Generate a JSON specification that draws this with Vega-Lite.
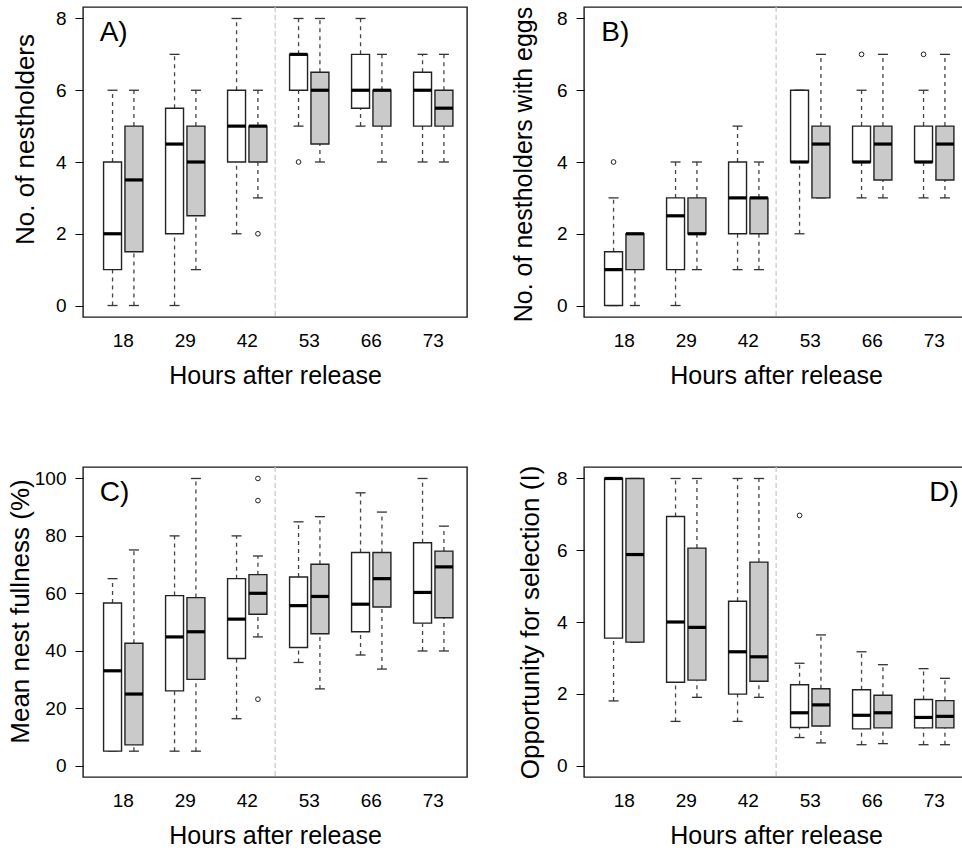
{
  "$schema": "https://vega.github.io/schema/vega-lite/v6.json",
  "background": "white",
  "padding": {"left": 6, "top": 5, "right": 0, "bottom": 0},
  "columns": 2,
  "bounds": "flush",
  "spacing": {"row": 150, "column": 117},
  "config": {
    "font": "Liberation Sans",
    "view": {"stroke": "#1a1a1a", "strokeWidth": 1.4},
    "tick": {"opacity": 1},
    "point": {"opacity": 1},
    "axis": {
      "labelFont": "Liberation Sans", "labelFontSize": 19, "labelColor": "black",
      "titleFont": "Liberation Sans", "titleFontSize": 25, "titleFontWeight": "normal", "titleColor": "black",
      "grid": false, "domain": false, "tickColor": "black"
    },
    "axisX": {"ticks": false, "labelAngle": 0, "labelPadding": 14, "titlePadding": 13},
    "axisY": {"tickSize": 8, "labelPadding": 9, "titleFontSize": 26}
  },
  "datasets": {
    "A": [
      {"hour": "18", "grp": "white", "lo": 0, "q1": 1, "med": 2, "q3": 4, "hi": 6},
      {"hour": "18", "grp": "grey", "lo": 0, "q1": 1.5, "med": 3.5, "q3": 5, "hi": 6},
      {"hour": "29", "grp": "white", "lo": 0, "q1": 2, "med": 4.5, "q3": 5.5, "hi": 7},
      {"hour": "29", "grp": "grey", "lo": 1, "q1": 2.5, "med": 4, "q3": 5, "hi": 6},
      {"hour": "42", "grp": "white", "lo": 2, "q1": 4, "med": 5, "q3": 6, "hi": 8},
      {"hour": "42", "grp": "grey", "lo": 3, "q1": 4, "med": 5, "q3": 5, "hi": 6},
      {"hour": "53", "grp": "white", "lo": 5, "q1": 6, "med": 7, "q3": 7, "hi": 8},
      {"hour": "53", "grp": "grey", "lo": 4, "q1": 4.5, "med": 6, "q3": 6.5, "hi": 8},
      {"hour": "66", "grp": "white", "lo": 5, "q1": 5.5, "med": 6, "q3": 7, "hi": 8},
      {"hour": "66", "grp": "grey", "lo": 4, "q1": 5, "med": 6, "q3": 6, "hi": 7},
      {"hour": "73", "grp": "white", "lo": 4, "q1": 5, "med": 6, "q3": 6.5, "hi": 7},
      {"hour": "73", "grp": "grey", "lo": 4, "q1": 5, "med": 5.5, "q3": 6, "hi": 7}
    ],
    "Aout": [
      {"hour": "42", "grp": "grey", "v": 2},
      {"hour": "53", "grp": "white", "v": 4}
    ],
    "B": [
      {"hour": "18", "grp": "white", "lo": 0, "q1": 0, "med": 1, "q3": 1.5, "hi": 3},
      {"hour": "18", "grp": "grey", "lo": 0, "q1": 1, "med": 2, "q3": 2, "hi": 2},
      {"hour": "29", "grp": "white", "lo": 0, "q1": 1, "med": 2.5, "q3": 3, "hi": 4},
      {"hour": "29", "grp": "grey", "lo": 1, "q1": 2, "med": 2, "q3": 3, "hi": 4},
      {"hour": "42", "grp": "white", "lo": 1, "q1": 2, "med": 3, "q3": 4, "hi": 5},
      {"hour": "42", "grp": "grey", "lo": 1, "q1": 2, "med": 3, "q3": 3, "hi": 4},
      {"hour": "53", "grp": "white", "lo": 2, "q1": 4, "med": 4, "q3": 6, "hi": 6},
      {"hour": "53", "grp": "grey", "lo": 3, "q1": 3, "med": 4.5, "q3": 5, "hi": 7},
      {"hour": "66", "grp": "white", "lo": 3, "q1": 4, "med": 4, "q3": 5, "hi": 6},
      {"hour": "66", "grp": "grey", "lo": 3, "q1": 3.5, "med": 4.5, "q3": 5, "hi": 7},
      {"hour": "73", "grp": "white", "lo": 3, "q1": 4, "med": 4, "q3": 5, "hi": 6},
      {"hour": "73", "grp": "grey", "lo": 3, "q1": 3.5, "med": 4.5, "q3": 5, "hi": 7}
    ],
    "Bout": [
      {"hour": "18", "grp": "white", "v": 4},
      {"hour": "66", "grp": "white", "v": 7},
      {"hour": "73", "grp": "white", "v": 7}
    ],
    "C": [
      {"hour": "18", "grp": "white", "lo": 5, "q1": 5, "med": 33, "q3": 56.6, "hi": 65.1},
      {"hour": "18", "grp": "grey", "lo": 5, "q1": 7.2, "med": 24.9, "q3": 42.6, "hi": 75.1},
      {"hour": "29", "grp": "white", "lo": 5, "q1": 26, "med": 44.8, "q3": 59.2, "hi": 80},
      {"hour": "29", "grp": "grey", "lo": 5, "q1": 30, "med": 46.6, "q3": 58.5, "hi": 100},
      {"hour": "42", "grp": "white", "lo": 16.3, "q1": 37.3, "med": 51, "q3": 65.1, "hi": 80},
      {"hour": "42", "grp": "grey", "lo": 44.8, "q1": 52.7, "med": 60, "q3": 66.5, "hi": 73},
      {"hour": "53", "grp": "white", "lo": 35.9, "q1": 41.1, "med": 55.7, "q3": 65.7, "hi": 84.9},
      {"hour": "53", "grp": "grey", "lo": 26.7, "q1": 45.9, "med": 58.9, "q3": 70.1, "hi": 86.7},
      {"hour": "66", "grp": "white", "lo": 38.5, "q1": 46.6, "med": 56.2, "q3": 74.2, "hi": 95},
      {"hour": "66", "grp": "grey", "lo": 33.6, "q1": 55.2, "med": 65.1, "q3": 74.2, "hi": 88.3},
      {"hour": "73", "grp": "white", "lo": 39.9, "q1": 49.6, "med": 60.3, "q3": 77.6, "hi": 100},
      {"hour": "73", "grp": "grey", "lo": 39.9, "q1": 51.5, "med": 69.2, "q3": 74.7, "hi": 83.4}
    ],
    "Cout": [
      {"hour": "42", "grp": "grey", "v": 100},
      {"hour": "42", "grp": "grey", "v": 92.3},
      {"hour": "42", "grp": "grey", "v": 23.1}
    ],
    "D": [
      {"hour": "18", "grp": "white", "lo": 1.8, "q1": 3.55, "med": 8, "q3": 8, "hi": 8},
      {"hour": "18", "grp": "grey", "lo": 3.44, "q1": 3.44, "med": 5.88, "q3": 8, "hi": 8},
      {"hour": "29", "grp": "white", "lo": 1.23, "q1": 2.32, "med": 4.0, "q3": 6.94, "hi": 8},
      {"hour": "29", "grp": "grey", "lo": 1.9, "q1": 2.38, "med": 3.85, "q3": 6.06, "hi": 8},
      {"hour": "42", "grp": "white", "lo": 1.23, "q1": 1.99, "med": 3.17, "q3": 4.58, "hi": 8},
      {"hour": "42", "grp": "grey", "lo": 1.9, "q1": 2.35, "med": 3.03, "q3": 5.67, "hi": 8},
      {"hour": "53", "grp": "white", "lo": 0.78, "q1": 1.06, "med": 1.47, "q3": 2.25, "hi": 2.85},
      {"hour": "53", "grp": "grey", "lo": 0.63, "q1": 1.1, "med": 1.69, "q3": 2.14, "hi": 3.64},
      {"hour": "66", "grp": "white", "lo": 0.58, "q1": 1.02, "med": 1.4, "q3": 2.11, "hi": 3.17},
      {"hour": "66", "grp": "grey", "lo": 0.61, "q1": 1.05, "med": 1.47, "q3": 1.96, "hi": 2.81},
      {"hour": "73", "grp": "white", "lo": 0.58, "q1": 1.05, "med": 1.34, "q3": 1.84, "hi": 2.7},
      {"hour": "73", "grp": "grey", "lo": 0.58, "q1": 1.05, "med": 1.37, "q3": 1.81, "hi": 2.43}
    ],
    "Dout": [
      {"hour": "53", "grp": "white", "v": 6.97}
    ]
  },
  "concat": [
    {
      "width": 384, "height": 310,
      "encoding": {
        "x": {"field": "hour", "type": "ordinal", "sort": ["18", "29", "42", "53", "66", "73"],
              "scale": {"domain": ["18", "29", "42", "53", "66", "73"], "paddingInner": 0, "paddingOuter": 0.0968, "align": 0.77},
              "axis": {"title": "Hours after release"}},
        "xOffset": {"field": "grp", "type": "nominal", "sort": ["white", "grey"],
                    "scale": {"domain": ["white", "grey"], "paddingInner": 0.16, "paddingOuter": 0.53}}
      },
      "layer": [
        {"mark": {"type": "rule", "color": "#c8c8c8", "strokeDash": [5, 3], "strokeWidth": 1.2},
         "data": {"values": [{}]},
         "encoding": {"x": {"datum": "42", "type": "ordinal", "bandPosition": 0.95}, "xOffset": null}},
        {"data": {"name": "A"}, "mark": {"type": "rule", "color": "#444", "strokeDash": [4, 4], "strokeWidth": 1.3},
         "encoding": {"y": {"field": "lo", "type": "quantitative", "scale": {"domain": [-0.32, 8.32], "nice": false, "zero": false},
                            "axis": {"values": [0, 2, 4, 6, 8], "title": "No. of nestholders", "titlePadding": 17, "titleY": 132}},
                      "y2": {"field": "q1"}}},
        {"data": {"name": "A"}, "mark": {"type": "rule", "color": "#444", "strokeDash": [4, 4], "strokeWidth": 1.3},
         "encoding": {"y": {"field": "q3", "type": "quantitative"}, "y2": {"field": "hi"}}},
        {"data": {"name": "A"}, "mark": {"type": "tick", "orient": "horizontal", "color": "#333", "size": 10, "thickness": 1.3},
         "encoding": {"y": {"field": "lo", "type": "quantitative"}}},
        {"data": {"name": "A"}, "mark": {"type": "tick", "orient": "horizontal", "color": "#333", "size": 10, "thickness": 1.3},
         "encoding": {"y": {"field": "hi", "type": "quantitative"}}},
        {"data": {"name": "A"}, "mark": {"type": "bar", "stroke": "#222", "strokeWidth": 1.4},
         "encoding": {"y": {"field": "q1", "type": "quantitative"}, "y2": {"field": "q3"},
                      "fill": {"field": "grp", "type": "nominal", "scale": {"domain": ["white", "grey"], "range": ["#ffffff", "#c9cac9"]}, "legend": null}}},
        {"data": {"name": "A"}, "mark": {"type": "tick", "orient": "horizontal", "color": "black", "size": 18, "thickness": 3.2},
         "encoding": {"y": {"field": "med", "type": "quantitative"}}},
        {"data": {"name": "Aout"}, "mark": {"type": "point", "shape": "circle", "filled": false, "color": "#222", "size": 22, "strokeWidth": 1},
         "encoding": {"y": {"field": "v", "type": "quantitative"}}},
        {"data": {"values": [{}]}, "mark": {"type": "text", "text": "A)", "fontSize": 28, "align": "left", "baseline": "middle", "color": "black"},
         "encoding": {"x": {"datum": "18", "type": "ordinal", "bandPosition": 0.12}, "xOffset": null, "y": {"datum": 7.6, "type": "quantitative"}}}
      ]
    },
    {
      "width": 384, "height": 310,
      "encoding": {
        "x": {"field": "hour", "type": "ordinal", "sort": ["18", "29", "42", "53", "66", "73"],
              "scale": {"domain": ["18", "29", "42", "53", "66", "73"], "paddingInner": 0, "paddingOuter": 0.0968, "align": 0.77},
              "axis": {"title": "Hours after release"}},
        "xOffset": {"field": "grp", "type": "nominal", "sort": ["white", "grey"],
                    "scale": {"domain": ["white", "grey"], "paddingInner": 0.16, "paddingOuter": 0.53}}
      },
      "layer": [
        {"mark": {"type": "rule", "color": "#c8c8c8", "strokeDash": [5, 3], "strokeWidth": 1.2},
         "data": {"values": [{}]},
         "encoding": {"x": {"datum": "42", "type": "ordinal", "bandPosition": 0.95}, "xOffset": null}},
        {"data": {"name": "B"}, "mark": {"type": "rule", "color": "#444", "strokeDash": [4, 4], "strokeWidth": 1.3},
         "encoding": {"y": {"field": "lo", "type": "quantitative", "scale": {"domain": [-0.32, 8.32], "nice": false, "zero": false},
                            "axis": {"values": [0, 2, 4, 6, 8], "title": "No. of nestholders with eggs", "titlePadding": 20, "titleFontSize": 25, "titleY": 157}},
                      "y2": {"field": "q1"}}},
        {"data": {"name": "B"}, "mark": {"type": "rule", "color": "#444", "strokeDash": [4, 4], "strokeWidth": 1.3},
         "encoding": {"y": {"field": "q3", "type": "quantitative"}, "y2": {"field": "hi"}}},
        {"data": {"name": "B"}, "mark": {"type": "tick", "orient": "horizontal", "color": "#333", "size": 10, "thickness": 1.3},
         "encoding": {"y": {"field": "lo", "type": "quantitative"}}},
        {"data": {"name": "B"}, "mark": {"type": "tick", "orient": "horizontal", "color": "#333", "size": 10, "thickness": 1.3},
         "encoding": {"y": {"field": "hi", "type": "quantitative"}}},
        {"data": {"name": "B"}, "mark": {"type": "bar", "stroke": "#222", "strokeWidth": 1.4},
         "encoding": {"y": {"field": "q1", "type": "quantitative"}, "y2": {"field": "q3"},
                      "fill": {"field": "grp", "type": "nominal", "scale": {"domain": ["white", "grey"], "range": ["#ffffff", "#c9cac9"]}, "legend": null}}},
        {"data": {"name": "B"}, "mark": {"type": "tick", "orient": "horizontal", "color": "black", "size": 18, "thickness": 3.2},
         "encoding": {"y": {"field": "med", "type": "quantitative"}}},
        {"data": {"name": "Bout"}, "mark": {"type": "point", "shape": "circle", "filled": false, "color": "#222", "size": 22, "strokeWidth": 1},
         "encoding": {"y": {"field": "v", "type": "quantitative"}}},
        {"data": {"values": [{}]}, "mark": {"type": "text", "text": "B)", "fontSize": 28, "align": "left", "baseline": "middle", "color": "black"},
         "encoding": {"x": {"datum": "18", "type": "ordinal", "bandPosition": 0.13}, "xOffset": null, "y": {"datum": 7.6, "type": "quantitative"}}}
      ]
    },
    {
      "width": 384, "height": 310,
      "encoding": {
        "x": {"field": "hour", "type": "ordinal", "sort": ["18", "29", "42", "53", "66", "73"],
              "scale": {"domain": ["18", "29", "42", "53", "66", "73"], "paddingInner": 0, "paddingOuter": 0.0968, "align": 0.77},
              "axis": {"title": "Hours after release"}},
        "xOffset": {"field": "grp", "type": "nominal", "sort": ["white", "grey"],
                    "scale": {"domain": ["white", "grey"], "paddingInner": 0.16, "paddingOuter": 0.53}}
      },
      "layer": [
        {"mark": {"type": "rule", "color": "#c8c8c8", "strokeDash": [5, 3], "strokeWidth": 1.2},
         "data": {"values": [{}]},
         "encoding": {"x": {"datum": "42", "type": "ordinal", "bandPosition": 0.95}, "xOffset": null}},
        {"data": {"name": "C"}, "mark": {"type": "rule", "color": "#444", "strokeDash": [4, 4], "strokeWidth": 1.3},
         "encoding": {"y": {"field": "lo", "type": "quantitative", "scale": {"domain": [-4, 104], "nice": false, "zero": false},
                            "axis": {"values": [0, 20, 40, 60, 80, 100], "title": "Mean nest fullness (%)", "titlePadding": 1, "titleY": 144}},
                      "y2": {"field": "q1"}}},
        {"data": {"name": "C"}, "mark": {"type": "rule", "color": "#444", "strokeDash": [4, 4], "strokeWidth": 1.3},
         "encoding": {"y": {"field": "q3", "type": "quantitative"}, "y2": {"field": "hi"}}},
        {"data": {"name": "C"}, "mark": {"type": "tick", "orient": "horizontal", "color": "#333", "size": 10, "thickness": 1.3},
         "encoding": {"y": {"field": "lo", "type": "quantitative"}}},
        {"data": {"name": "C"}, "mark": {"type": "tick", "orient": "horizontal", "color": "#333", "size": 10, "thickness": 1.3},
         "encoding": {"y": {"field": "hi", "type": "quantitative"}}},
        {"data": {"name": "C"}, "mark": {"type": "bar", "stroke": "#222", "strokeWidth": 1.4},
         "encoding": {"y": {"field": "q1", "type": "quantitative"}, "y2": {"field": "q3"},
                      "fill": {"field": "grp", "type": "nominal", "scale": {"domain": ["white", "grey"], "range": ["#ffffff", "#c9cac9"]}, "legend": null}}},
        {"data": {"name": "C"}, "mark": {"type": "tick", "orient": "horizontal", "color": "black", "size": 18, "thickness": 3.2},
         "encoding": {"y": {"field": "med", "type": "quantitative"}}},
        {"data": {"name": "Cout"}, "mark": {"type": "point", "shape": "circle", "filled": false, "color": "#222", "size": 22, "strokeWidth": 1},
         "encoding": {"y": {"field": "v", "type": "quantitative"}}},
        {"data": {"values": [{}]}, "mark": {"type": "text", "text": "C)", "fontSize": 28, "align": "left", "baseline": "middle", "color": "black"},
         "encoding": {"x": {"datum": "18", "type": "ordinal", "bandPosition": 0.12}, "xOffset": null, "y": {"datum": 95, "type": "quantitative"}}}
      ]
    },
    {
      "width": 384, "height": 310,
      "encoding": {
        "x": {"field": "hour", "type": "ordinal", "sort": ["18", "29", "42", "53", "66", "73"],
              "scale": {"domain": ["18", "29", "42", "53", "66", "73"], "paddingInner": 0, "paddingOuter": 0.0968, "align": 0.77},
              "axis": {"title": "Hours after release"}},
        "xOffset": {"field": "grp", "type": "nominal", "sort": ["white", "grey"],
                    "scale": {"domain": ["white", "grey"], "paddingInner": 0.16, "paddingOuter": 0.53}}
      },
      "layer": [
        {"mark": {"type": "rule", "color": "#c8c8c8", "strokeDash": [5, 3], "strokeWidth": 1.2},
         "data": {"values": [{}]},
         "encoding": {"x": {"datum": "42", "type": "ordinal", "bandPosition": 0.95}, "xOffset": null}},
        {"data": {"name": "D"}, "mark": {"type": "rule", "color": "#444", "strokeDash": [4, 4], "strokeWidth": 1.3},
         "encoding": {"y": {"field": "lo", "type": "quantitative", "scale": {"domain": [-0.32, 8.32], "nice": false, "zero": false},
                            "axis": {"values": [0, 2, 4, 6, 8], "title": "Opportunity for selection (I)", "titlePadding": 13}},
                      "y2": {"field": "q1"}}},
        {"data": {"name": "D"}, "mark": {"type": "rule", "color": "#444", "strokeDash": [4, 4], "strokeWidth": 1.3},
         "encoding": {"y": {"field": "q3", "type": "quantitative"}, "y2": {"field": "hi"}}},
        {"data": {"name": "D"}, "mark": {"type": "tick", "orient": "horizontal", "color": "#333", "size": 10, "thickness": 1.3},
         "encoding": {"y": {"field": "lo", "type": "quantitative"}}},
        {"data": {"name": "D"}, "mark": {"type": "tick", "orient": "horizontal", "color": "#333", "size": 10, "thickness": 1.3},
         "encoding": {"y": {"field": "hi", "type": "quantitative"}}},
        {"data": {"name": "D"}, "mark": {"type": "bar", "stroke": "#222", "strokeWidth": 1.4},
         "encoding": {"y": {"field": "q1", "type": "quantitative"}, "y2": {"field": "q3"},
                      "fill": {"field": "grp", "type": "nominal", "scale": {"domain": ["white", "grey"], "range": ["#ffffff", "#c9cac9"]}, "legend": null}}},
        {"data": {"name": "D"}, "mark": {"type": "tick", "orient": "horizontal", "color": "black", "size": 18, "thickness": 3.2},
         "encoding": {"y": {"field": "med", "type": "quantitative"}}},
        {"data": {"name": "Dout"}, "mark": {"type": "point", "shape": "circle", "filled": false, "color": "#222", "size": 22, "strokeWidth": 1},
         "encoding": {"y": {"field": "v", "type": "quantitative"}}},
        {"data": {"values": [{}]}, "mark": {"type": "text", "text": "D)", "fontSize": 28, "align": "left", "baseline": "middle", "color": "black"},
         "encoding": {"x": {"datum": "73", "type": "ordinal", "bandPosition": 0.42}, "xOffset": null, "y": {"datum": 7.6, "type": "quantitative"}}}
      ]
    }
  ]
}
